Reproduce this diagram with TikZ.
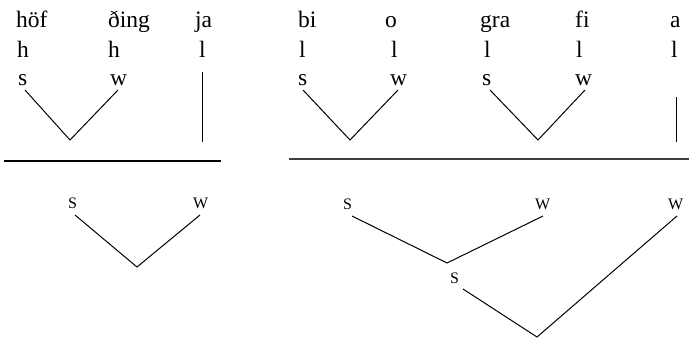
\documentclass[tikz,border=0pt]{standalone}
\usepackage{fontspec}
\setmainfont{Liberation Serif}
\begin{document}
\begin{tikzpicture}[x=1pt,y=-1pt,
  lbl/.style={anchor=base west,inner sep=0pt,font=\fontsize{23.5}{26}\selectfont},
  caplbl/.style={anchor=base west,inner sep=0pt,font=\fontsize{16}{18}\selectfont},
  ln/.style={line width=1pt,black},
  rule/.style={line width=1.2pt}]
\useasboundingbox (0,0) rectangle (690,343);
% top row words
\node[lbl] (w1) at (16,27) {höf};
\node[lbl] (w2) at (108,27) {ðing};
\node[lbl] (w3) at (195,27) {ja};
\node[lbl] (w4) at (298,27) {bi};
\node[lbl] (w5) at (385,27) {o};
\node[lbl] (w6) at (480,27) {gra};
\node[lbl] (w7) at (575,27) {fi};
\node[lbl] (w8) at (670,27) {a};
% weights
\node[lbl] (h1) at (17,57) {h};
\node[lbl] (h2) at (108,57) {h};
\node[lbl] (h3) at (199,57) {l};
\node[lbl] (h4) at (299,57) {l};
\node[lbl] (h5) at (391,57) {l};
\node[lbl] (h6) at (484,57) {l};
\node[lbl] (h7) at (576,57) {l};
\node[lbl] (h8) at (671,57) {l};
% s/w
\node[lbl] (s1) at (18,85) {s};
\node[lbl] (s2) at (110,85) {w};
\node[lbl] (s4) at (298,85) {s};
\node[lbl] (s5) at (390,85) {w};
\node[lbl] (s6) at (482,85) {s};
\node[lbl] (s7) at (575,85) {w};
% top trees
\coordinate (a1) at (25,90);
\coordinate (v1) at (70,140);
\coordinate (b1) at (118,90);
\draw[ln] (a1) -- (v1) -- (b1);
\coordinate (j1) at (202,72);
\coordinate (j2) at (202,142);
\draw[ln] (j1) -- (j2);
\coordinate (a2) at (303,90);
\coordinate (v2) at (350,140);
\coordinate (b2) at (398,90);
\draw[ln] (a2) -- (v2) -- (b2);
\coordinate (a3) at (490,90);
\coordinate (v3) at (538,140);
\coordinate (b3) at (585,90);
\draw[ln] (a3) -- (v3) -- (b3);
\coordinate (k1) at (676,97);
\coordinate (k2) at (676,142);
\draw[ln] (k1) -- (k2);
% rules
\coordinate (r1) at (4,161);
\coordinate (r2) at (221,161);
\draw[rule] (r1) -- (r2);
\coordinate (r3) at (289,159);
\coordinate (r4) at (689,159);
\draw[rule,black!75] (r3) -- (r4);
% bottom left
\node[caplbl] (S1) at (68,208) {S};
\node[caplbl] (W1) at (193,208) {W};
\coordinate (c1) at (75,215);
\coordinate (u1) at (137,267);
\coordinate (d1) at (200,215);
\draw[ln] (c1) -- (u1) -- (d1);
% bottom right
\node[caplbl] (S2) at (343,209) {S};
\node[caplbl] (W2) at (535,209) {W};
\node[caplbl] (W3) at (668,209) {W};
\node[caplbl] (S3) at (450,283) {S};
\coordinate (c2) at (352,216);
\coordinate (u2) at (447,263);
\coordinate (d2) at (543,216);
\draw[ln] (c2) -- (u2) -- (d2);
\coordinate (c3) at (463,289);
\coordinate (u3) at (537,337);
\coordinate (d3) at (677,216);
\draw[ln] (c3) -- (u3) -- (d3);
\end{tikzpicture}
\end{document}
